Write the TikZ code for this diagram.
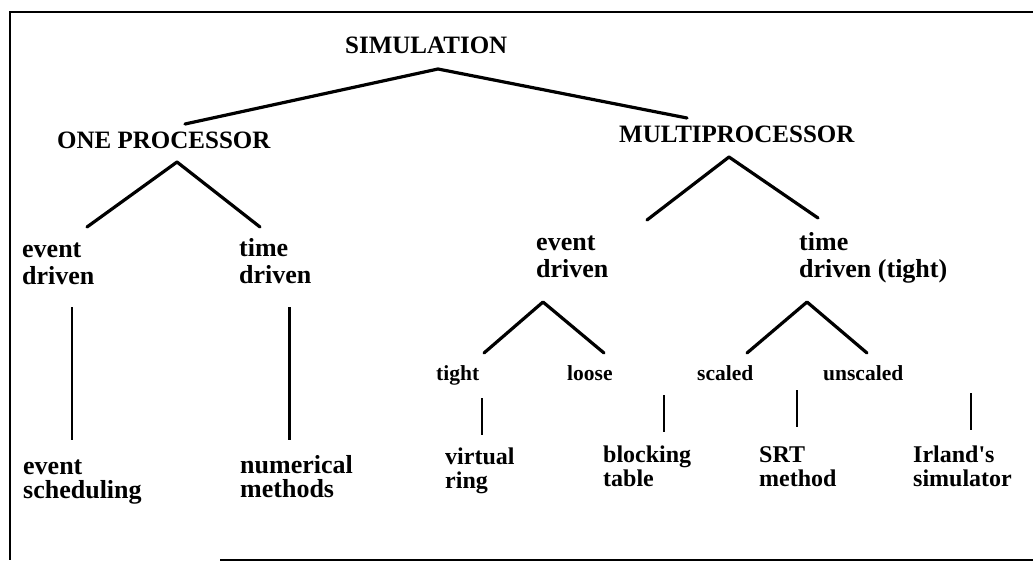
\documentclass[tikz,border=0pt]{standalone}
\usepackage{fontspec}
\setmainfont{Liberation Serif}
\newcommand\stk[1]{\begin{tabular}[t]{@{}l@{}}#1\end{tabular}}
\tikzset{
  lbl/.style={anchor=base west, inner sep=0pt, font=\bfseries},
  caps/.style={lbl, font=\fontsize{25}{27}\selectfont\bfseries},
  mid/.style={lbl, font=\fontsize{26}{27}\selectfont\bfseries},
  lowleaf/.style={lbl, font=\fontsize{26}{20.5}\selectfont\bfseries},
  small/.style={lbl, font=\fontsize{21.5}{22}\selectfont\bfseries},
  leaf/.style={lbl, font=\fontsize{24}{24}\selectfont\bfseries},
  branch/.style={line width=3.2pt, line cap=round, line join=round},
  stem/.style={line width=2.5pt},
  frame/.style={line width=2.6pt}
}
\begin{document}
\begin{tikzpicture}[x=1pt,y=-1pt]
\useasboundingbox (0,0) rectangle (1033,562);
\fill[white] (0,0) rectangle (1033,562);

% open frame: top, left and bottom rules
\coordinate (fTR) at (1033,12);
\coordinate (fTL) at (10,12);
\coordinate (fBL) at (10,560);
\coordinate (fBS) at (220,560);
\coordinate (fBR) at (1033,560);
\draw[frame] (fTR) -- (fTL) -- (fBL);
\draw[frame] (fBS) -- (fBR);

% labels
\node[caps] (sim) at (345,53) {SIMULATION};
\node[caps] (one) at (57,148) {ONE PROCESSOR};
\node[caps] (multi) at (619,142) {MULTIPROCESSOR};

\node[mid] (ed1) at (22,257) {\stk{event\\driven}};
\node[mid] (td1) at (239,256) {\stk{time\\driven}};
\node[mid] (ed2) at (536,250) {\stk{event\\driven}};
\node[mid] (td2) at (799,250) {\stk{time\\driven (tight)}};

\node[lowleaf] (es) at (23,474) {\stk{event\\scheduling}};
\node[lowleaf] (nm) at (240,473) {\stk{numerical\\methods}};

\node[small] (tight) at (436,380) {tight};
\node[small] (loose) at (567,380) {loose};
\node[small] (scaled) at (697,380) {scaled};
\node[small] (unscaled) at (823,380) {unscaled};

\node[leaf] (vr) at (445,464) {\stk{virtual\\ring}};
\node[leaf] (bt) at (603,462) {\stk{blocking\\table}};
\node[leaf] (srt) at (759,462) {\stk{SRT\\method}};
\node[leaf] (irl) at (913,462) {\stk{Irland\textquotesingle s\\simulator}};

% branch points of the tree
\coordinate (simA) at (438,69);
\coordinate (oneT) at (185,124);
\coordinate (multiT) at (687,118);

\coordinate (oneA) at (177,162);
\coordinate (ed1T) at (87,227);
\coordinate (td1T) at (260,227);

\coordinate (multiA) at (729,157);
\coordinate (ed2T) at (647,220);
\coordinate (td2T) at (818,218);

\coordinate (ed2A) at (543,302);
\coordinate (tightT) at (484,353);
\coordinate (looseT) at (604,353);

\coordinate (td2A) at (807,302);
\coordinate (scaledT) at (747,353);
\coordinate (unscaledT) at (867,353);

\coordinate (ed1B) at (72,307);
\coordinate (esT) at (72,440);
\coordinate (td1B) at (289,307);
\coordinate (nmT) at (289,440);

\coordinate (tightB) at (482,398);
\coordinate (vrT) at (482,435);
\coordinate (looseB) at (664,395);
\coordinate (btT) at (664,432);
\coordinate (scaledB) at (797,390);
\coordinate (srtT) at (797,427);
\coordinate (unscaledB) at (971,393);
\coordinate (irlT) at (971,430);

% connectors
\draw[branch] (oneT) -- (simA) -- (multiT);
\draw[branch] (ed1T) -- (oneA) -- (td1T);
\draw[branch] (ed2T) -- (multiA) -- (td2T);
\draw[branch] (tightT) -- (ed2A) -- (looseT);
\draw[branch] (scaledT) -- (td2A) -- (unscaledT);

\draw[stem] (ed1B) -- (esT);
\draw[stem, line width=3pt] (td1B) -- (nmT);
\draw[stem] (tightB) -- (vrT);
\draw[stem] (looseB) -- (btT);
\draw[stem] (scaledB) -- (srtT);
\draw[stem] (unscaledB) -- (irlT);
\end{tikzpicture}
\end{document}
